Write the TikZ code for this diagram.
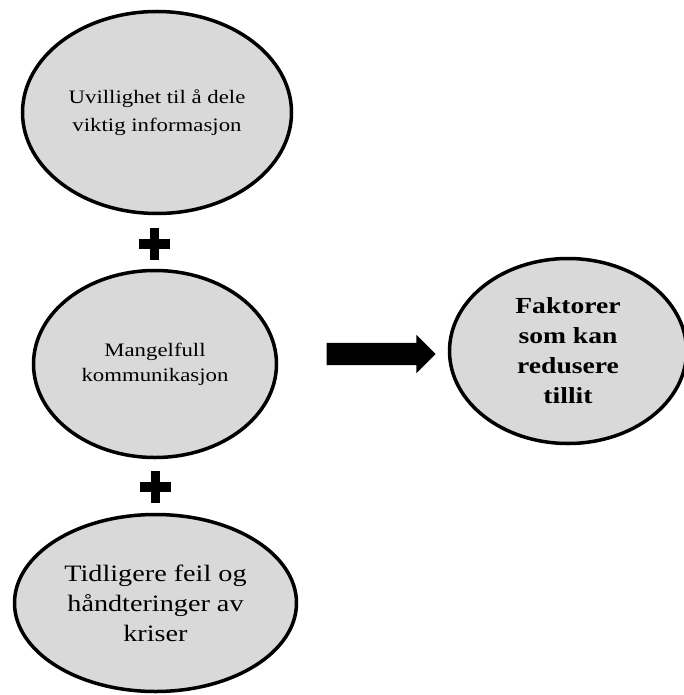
\documentclass[tikz,border=0pt]{standalone}
\usepackage{fontspec}
\setmainfont{Liberation Serif}[FakeStretch=1.2]
\usetikzlibrary{shapes.geometric,shapes.arrows}
\definecolor{bubblegray}{HTML}{D9D9D9}
\begin{document}
\begin{tikzpicture}[x=1pt,y=-1pt,
  bubble/.style={ellipse,draw=black,line width=3.5pt,fill=bubblegray,
    inner sep=0pt,align=center},
  plusbar/.style={fill=black}]
\useasboundingbox (0,0) rectangle (684,695);

% the three factors, stacked on the left
\node[bubble,minimum width=269pt,minimum height=202pt,
  font=\fontsize{19}{28}\selectfont] (e1) at (157,112.5)
  {Uvillighet til å dele\\viktig informasjon};
\node[bubble,minimum width=243pt,minimum height=187pt,
  font=\fontsize{19}{25}\selectfont] (e2) at (155,364)
  {Mangelfull\\kommunikasjon};
\node[bubble,minimum width=282pt,minimum height=177pt,
  font=\fontsize{23.5}{30}\selectfont] (e3) at (155.5,603)
  {Tidligere feil og\\håndteringer av\\kriser};

% the summary on the right
\node[bubble,minimum width=237pt,minimum height=185pt,
  font=\fontsize{23}{30}\selectfont\bfseries] (e4) at (568,351)
  {Faktorer\\som kan\\redusere\\tillit};

% plus signs between the factors
\coordinate (p1) at (154.5,244);
\coordinate (p2) at (155,486.5);
\foreach \p in {p1,p2}{
  \fill[plusbar] ([shift={(-15.5,-5)}]\p) rectangle ++(31,10);
  \fill[plusbar] ([shift={(-4.5,-16)}]\p) rectangle ++(9,32);
}

% block arrow towards the summary
\node[single arrow,fill=black,inner sep=11pt,minimum width=38pt,
  single arrow head extend=8pt,minimum height=109pt] (arr) at (375.5,354) {};
\end{tikzpicture}
\end{document}
